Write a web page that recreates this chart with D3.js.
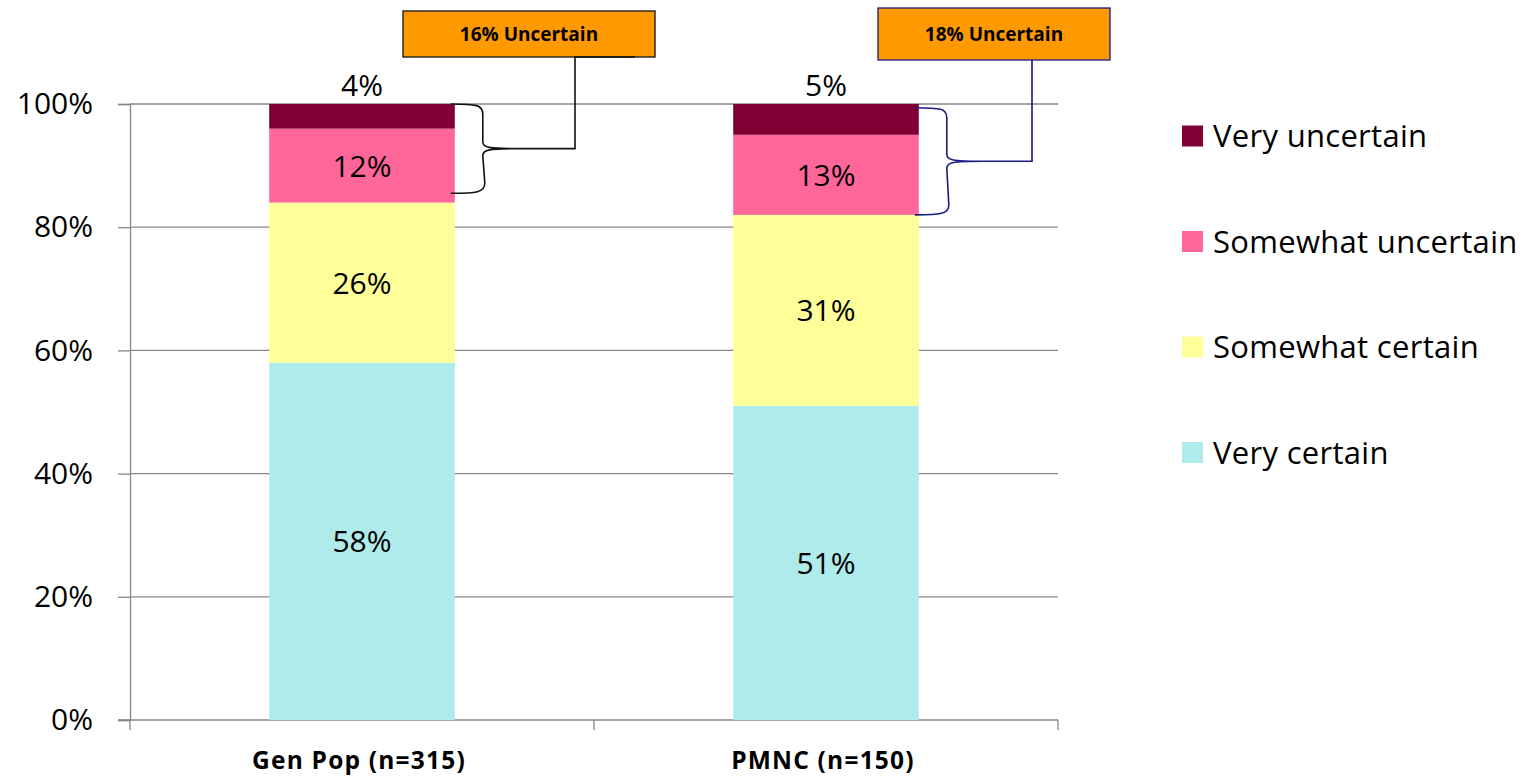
<!DOCTYPE html>
<html>
<head>
<meta charset="utf-8">
<script src="https://cdn.jsdelivr.net/npm/d3@7"></script>
<style>
  html, body { margin: 0; padding: 0; background: #fff; }
  svg { display: block; font-family: "Open Sans", Lato, sans-serif; }
</style>
</head>
<body>
<svg id="chart" width="1540" height="777"></svg>
<script>
// Groups and their sample sizes
const categories = ["Gen Pop (n=315)", "PMNC (n=150)"];

// Series, stacked bottom to top
const seriesNames = ["Very certain", "Somewhat certain", "Somewhat uncertain", "Very uncertain"];
const veryCertain = [58, 51];
const somewhatCertain = [26, 31];
const somewhatUncertain = [12, 13];
const veryUncertain = [4, 5];

// Combined "uncertain" share shown in the callouts
const uncertainTotals = [16, 18];
const calloutLabels = ["16% Uncertain", "18% Uncertain"];

const yTicks = [0, 20, 40, 60, 80, 100];
const seriesColors = ["#AEEBEA", "#FFFF99", "#FF6699", "#800034"];
const calloutStroke = ["#111111", "#1a1a80"];

const seriesValues = [veryCertain, somewhatCertain, somewhatUncertain, veryUncertain];
const rows = categories.map((c, i) => {
  const r = { category: c };
  seriesNames.forEach((s, k) => { r[s] = seriesValues[k][i]; });
  return r;
});
const stacked = d3.stack().keys(seriesNames)(rows);

const svg = d3.select("#chart");
const plot = { left: 130, right: 1058, top: 104, bottom: 720 };

const x = d3.scaleBand()
  .domain(categories)
  .range([plot.left, plot.right])
  .paddingInner(0.6)
  .paddingOuter(0.3);

const y = d3.scaleLinear().domain([0, 100]).range([plot.bottom, plot.top]);

const axisColor = "#878787";
const bigFont = "30px";

// Horizontal gridlines
svg.append("g")
  .selectAll("line")
  .data(yTicks.filter(t => t > 0))
  .join("line")
  .attr("x1", plot.left).attr("x2", plot.right)
  .attr("y1", d => y(d)).attr("y2", d => y(d))
  .attr("stroke", axisColor).attr("stroke-width", 1.3);

// Y axis
const yAxis = svg.append("g")
  .attr("transform", `translate(${plot.left},0)`)
  .call(d3.axisLeft(y).tickValues(yTicks).tickFormat(d => d + "%").tickSize(12).tickPadding(25));
yAxis.select(".domain").attr("stroke", axisColor).attr("stroke-width", 1.3);
yAxis.selectAll(".tick line").attr("stroke", axisColor).attr("stroke-width", 1.3);
yAxis.selectAll(".tick text")
  .attr("fill", "#000").style("font-size", bigFont).style("font-family", "'Open Sans', sans-serif");

// X axis with boundary ticks between categories
const xAxisG = svg.append("g").attr("transform", `translate(0,${plot.bottom})`);
xAxisG.append("line")
  .attr("x1", plot.left - 12).attr("x2", plot.right)
  .attr("stroke", axisColor).attr("stroke-width", 1.3);
const boundaries = [plot.left, (x(categories[0]) + x.bandwidth() + x(categories[1])) / 2, plot.right];
xAxisG.selectAll(".bnd")
  .data(boundaries)
  .join("line")
  .attr("class", "bnd")
  .attr("x1", d => d).attr("x2", d => d)
  .attr("y1", 0).attr("y2", 10)
  .attr("stroke", axisColor).attr("stroke-width", 1.3);
xAxisG.selectAll(".cat")
  .data(categories)
  .join("text")
  .attr("class", "cat")
  .attr("x", d => x(d) + x.bandwidth() / 2 - 3)
  .attr("y", 49)
  .attr("text-anchor", "middle")
  .style("font-size", "24.5px")
  .style("font-weight", "700")
  .style("letter-spacing", "1.2px")
  .text(d => d);

// Stacked bars
const layers = svg.append("g")
  .selectAll("g")
  .data(stacked)
  .join("g")
  .attr("fill", (d, i) => seriesColors[i]);

layers.selectAll("rect")
  .data(d => d)
  .join("rect")
  .attr("x", d => x(d.data.category))
  .attr("width", x.bandwidth())
  .attr("y", d => y(d[1]))
  .attr("height", d => y(d[0]) - y(d[1]));

// Value labels: inside each segment, the thin top segment is labelled above the bar
const labels = [];
stacked.forEach((layer, k) => {
  layer.forEach(d => {
    const v = d[1] - d[0];
    const top = k === stacked.length - 1;
    labels.push({
      x: x(d.data.category) + x.bandwidth() / 2,
      y: top ? y(d[1]) - 8 : (y(d[0]) + y(d[1])) / 2 + 11,
      text: v + "%"
    });
  });
});
svg.append("g")
  .selectAll("text")
  .data(labels)
  .join("text")
  .attr("x", d => d.x)
  .attr("y", d => d.y)
  .attr("text-anchor", "middle")
  .style("font-size", bigFont)
  .text(d => d.text);

// Curly brace spanning the uncertain share, with a leader up to the callout box
function bracePath(x0, yTop, yBot, xt) {
  const x1 = x0 + 32;
  const ym = (yTop + yBot) / 2;
  return `M${x0},${yTop}` +
    `C${x0 + 26},${yTop} ${x1},${yTop + 1} ${x1},${yTop + 10}` +
    `L${x1},${ym - 7}` +
    `C${x1},${ym - 1} ${x1 + 6},${ym} ${xt},${ym}` +
    `C${x1 + 6},${ym} ${x1},${ym + 1} ${x1},${ym + 7}` +
    `L${x1 + 2},${yBot - 10}` +
    `C${x1 + 2},${yBot - 1} ${x0 + 26},${yBot} ${x0},${yBot}`;
}

const calloutSpec = [
  { boxL: 41, boxR: 293, boxT: 11, boxB: 57, lead: 213, leadEnd: 273, topOff: 0, botOff: 1.5 },
  { boxL: 52, boxR: 284, boxT: 8, boxB: 60, lead: 206, leadEnd: 206, topOff: 0.6, botOff: 0 }
];

categories.forEach((c, i) => {
  const s = calloutSpec[i];
  const cx = x(c) + x.bandwidth() / 2;
  const x0 = x(c) + x.bandwidth() - 4;
  const yTop = y(100 - s.topOff);
  const yBot = y(100 - uncertainTotals[i] + s.botOff);
  const ym = (yTop + yBot) / 2;
  const xt = x0 + 67;
  const g = svg.append("g");

  g.append("rect")
    .attr("x", cx + s.boxL).attr("y", s.boxT)
    .attr("width", s.boxR - s.boxL).attr("height", s.boxB - s.boxT)
    .attr("fill", "#FF9900")
    .attr("stroke", calloutStroke[i]).attr("stroke-width", 1.3);
  g.append("text")
    .attr("x", cx + (s.boxL + s.boxR) / 2)
    .attr("y", (s.boxT + s.boxB) / 2 + 6.5)
    .attr("text-anchor", "middle")
    .style("font-size", "19px").style("font-weight", "700")
    .text(calloutLabels[i]);

  g.append("path")
    .attr("d", bracePath(x0, yTop, yBot, xt))
    .attr("fill", "none").attr("stroke", calloutStroke[i]).attr("stroke-width", 1.6);
  g.append("path")
    .attr("d", `M${xt},${ym}H${cx + s.lead}V${s.boxB}H${cx + s.leadEnd}`)
    .attr("fill", "none").attr("stroke", calloutStroke[i]).attr("stroke-width", 1.6);
});

// Legend, listed top of stack first
const legendItems = seriesNames.map((n, i) => ({ name: n, color: seriesColors[i] })).reverse();
const legend = svg.append("g")
  .selectAll("g")
  .data(legendItems)
  .join("g")
  .attr("transform", (d, i) => `translate(1182,${136 + i * 105.5})`);
legend.append("rect")
  .attr("x", 0).attr("y", -10.5).attr("width", 21).attr("height", 21)
  .attr("fill", d => d.color);
legend.append("text")
  .attr("x", 31).attr("y", 11)
  .style("font-size", "31px")
  .style("letter-spacing", "0.3px")
  .text(d => d.name);
</script>
</body>
</html>
